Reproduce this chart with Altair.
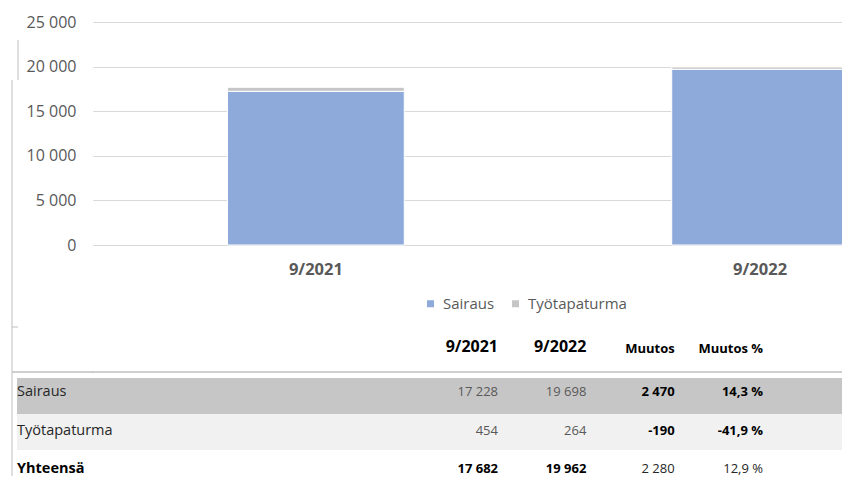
import altair as alt
import pandas as pd

# ---------------- data ----------------
categories = ["9/2021", "9/2022"]
series = ["Sairaus", "Työtapaturma"]
sairaus = [17228, 19698]
tyotapaturma = [454, 264]
y_ticks = [0, 5000, 10000, 15000, 20000, 25000]

col_headers = ["9/2021", "9/2022", "Muutos", "Muutos %"]
row_labels = ["Sairaus", "Työtapaturma", "Yhteensä"]
bold_cols = [[False, False, True, True],
             [False, False, True, True],
             [True, True, False, False]]


def fi_int(v):
    return f"{v:,}".replace(",", " ")


def fi_pct(p):
    return f"{p:.1f}".replace(".", ",") + " %"


bars_df = pd.DataFrame(
    [{"cat": c, "series": s, "idx": si, "value": v}
     for si, (s, vals) in enumerate(zip(series, [sairaus, tyotapaturma]))
     for c, v in zip(categories, vals)]
)

totals = [a + b for a, b in zip(sairaus, tyotapaturma)]
rows_vals = [sairaus, tyotapaturma, totals]
cells = []
for ri, (r, vals, bolds) in enumerate(zip(row_labels, rows_vals, bold_cols)):
    a, b = vals
    texts = [fi_int(a), fi_int(b), fi_int(b - a), fi_pct((b - a) / a * 100)]
    for col, t, bold in zip(col_headers, texts, bolds):
        kind = "bold" if bold else ("total" if ri == 2 else "plain")
        cells.append({"row": r, "col": col, "text": t, "kind": kind})
cells_df = pd.DataFrame(cells)
header_df = pd.DataFrame({"col": col_headers})
rows_df = pd.DataFrame({"row": row_labels})
cat_df = pd.DataFrame({"cat": categories})
one_df = pd.DataFrame({"k": [0]})

# ---------------- layout ----------------
W, H = 750, 454
FONT = "Open Sans"
GRID = "#d9d9d9"
LINE = "#bfbfbf"

x_bar_scale = alt.Scale(domain=categories, range=[0, 892],
                        paddingInner=0.602, paddingOuter=0.305)

bars = alt.Chart(bars_df).mark_bar(stroke="white", strokeWidth=1).encode(
    x=alt.X("cat:N", sort=categories, axis=None, scale=x_bar_scale),
    y=alt.Y("value:Q", stack="zero",
            scale=alt.Scale(domain=[0, 25000], range=[223, 0], nice=False, zero=True),
            axis=alt.Axis(values=y_ticks, title=None, domain=False, ticks=False,
                          grid=True, gridColor=GRID, gridWidth=1,
                          labelPadding=16, labelFontSize=16, labelColor="#595959",
                          labelFont=FONT,
                          labelExpr="replace(format(datum.value, ','), ',', ' ')")),
    color=alt.Color("series:N",
                    scale=alt.Scale(domain=series, range=["#8eaadb", "#c6c6c6"]),
                    legend=alt.Legend(orient="none", legendX=331, legendY=274,
                                      direction="horizontal", title=None,
                                      symbolType="square", symbolSize=49,
                                      symbolStrokeWidth=0,
                                      labelFont=FONT, labelFontSize=15,
                                      labelColor="#595959", columnPadding=13,
                                      labelOffset=5, padding=0)),
    order=alt.Order("idx:Q", sort="ascending"),
)

cat_labels = alt.Chart(cat_df).mark_text(
    font=FONT, fontSize=16.5, fontWeight="bold", color="#595959", baseline="middle"
).encode(
    x=alt.X("cat:N", sort=categories, axis=None, scale=x_bar_scale),
    y=alt.value(248),
    text="cat:N",
)

bar_layer = alt.layer(bars, cat_labels)

bg_scale = alt.Scale(type="band", domain=["Sairaus", "Työtapaturma"],
                     range=[356, 428], paddingInner=0, paddingOuter=0)
bg1 = alt.Chart(rows_df).transform_filter(alt.datum.row == "Sairaus").mark_rect(
    color="#c6c6c6").encode(
    y=alt.Y("row:N", scale=bg_scale, axis=None),
    x=alt.value(-75), x2=alt.value(W))
bg2 = alt.Chart(rows_df).transform_filter(alt.datum.row == "Työtapaturma").mark_rect(
    color="#f1f1f1").encode(
    y=alt.Y("row:N", scale=bg_scale, axis=None),
    x=alt.value(-75), x2=alt.value(W))
bg_layer = alt.layer(bg1, bg2)

x_col = alt.X("col:N", sort=col_headers, axis=None,
              scale=alt.Scale(type="point", domain=col_headers, range=[406, 671], padding=0))
y_row = alt.Y("row:N", sort=row_labels, axis=None,
              scale=alt.Scale(type="point", domain=row_labels, range=[370, 447], padding=0))

hdr_big = alt.Chart(header_df).transform_filter(
    alt.FieldOneOfPredicate(field="col", oneOf=col_headers[:2])
).mark_text(font=FONT, fontSize=16, fontWeight="bold", color="#000000",
            align="right", baseline="middle").encode(
    x=x_col, y=alt.value(325), text="col:N")
hdr_small = alt.Chart(header_df).transform_filter(
    alt.FieldOneOfPredicate(field="col", oneOf=col_headers[2:])
).mark_text(font=FONT, fontSize=13, fontWeight="bold", color="#000000",
            align="right", baseline="middle").encode(
    x=x_col, y=alt.value(327), text="col:N")

row_txt = alt.Chart(rows_df).transform_filter(alt.datum.row != "Yhteensä").mark_text(
    font=FONT, fontSize=14.5, color="#262626", align="left", baseline="middle").encode(
    x=alt.value(-75), y=y_row, text="row:N")
row_tot = alt.Chart(rows_df).transform_filter(alt.datum.row == "Yhteensä").mark_text(
    font=FONT, fontSize=14.5, fontWeight="bold", color="#000000", align="left",
    baseline="middle").encode(
    x=alt.value(-75), y=y_row, text="row:N")

cell_plain = alt.Chart(cells_df).transform_filter(alt.datum.kind == "plain").mark_text(
    font=FONT, fontSize=13, color="#595959", align="right", baseline="middle").encode(
    x=x_col, y=y_row, text="text:N")
cell_total = alt.Chart(cells_df).transform_filter(alt.datum.kind == "total").mark_text(
    font=FONT, fontSize=13, color="#262626", align="right", baseline="middle").encode(
    x=x_col, y=y_row, text="text:N")
cell_bold = alt.Chart(cells_df).transform_filter(alt.datum.kind == "bold").mark_text(
    font=FONT, fontSize=13, fontWeight="bold", color="#000000", align="right",
    baseline="middle").encode(
    x=x_col, y=y_row, text="text:N")

text_layer = alt.layer(hdr_big, hdr_small, row_txt, row_tot, cell_plain, cell_total, cell_bold)


def seg(x1, y1, x2, y2, width=1.0, color=LINE):
    return alt.Chart(one_df).mark_rule(color=color, strokeWidth=width).encode(
        x=alt.value(x1), y=alt.value(y1), x2=alt.value(x2), y2=alt.value(y2))


line_layer = alt.layer(
    seg(-80, 58, -80, H),
    seg(-74, 18, -74, 58),
    seg(-80, 350, W, 350, 1.5),
    seg(-80, 305, -74, 305),
)

# white cover for the stray edge line at the left of the view (outside the shaded rows)
mask_layer = alt.layer(
    seg(0, -2, 0, 349, 2.5, "white"),
    seg(0, 351.5, 0, 356, 2.5, "white"),
    seg(0, 428, 0, H + 4, 2.5, "white"),
)

chart = alt.layer(bg_layer, line_layer, bar_layer, text_layer, mask_layer).resolve_scale(
    x="independent", y="independent"
).properties(
    width=W, height=H,
    autosize=alt.AutoSizeParams(type="none"),
    padding={"left": 84, "top": 14, "right": 0, "bottom": 0},
).configure_view(
    stroke="transparent", strokeWidth=0
).configure_axis(
    domain=False, grid=False, ticks=False
).configure(font=FONT)

chart.save("out.html", embed_options={"renderer": "svg", "actions": False})
